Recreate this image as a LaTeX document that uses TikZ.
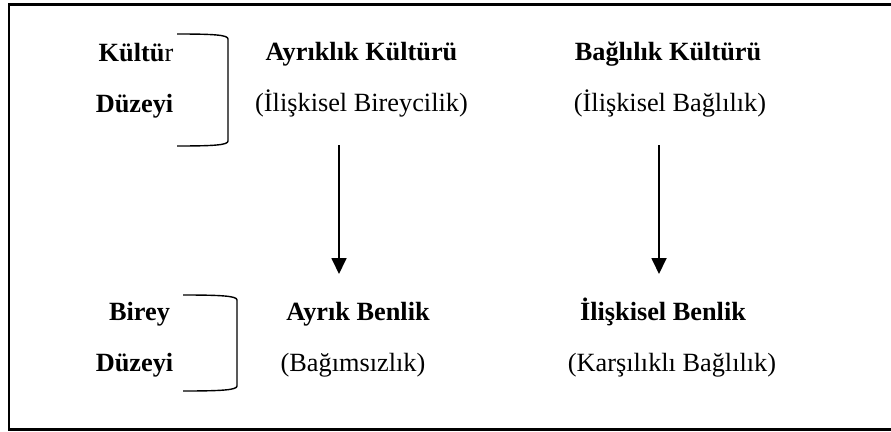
\documentclass[tikz,border=0pt]{standalone}
\usepackage{fontspec}
\setmainfont{Liberation Serif}
\usetikzlibrary{arrows.meta}
\tikzset{
  lbl/.style={inner sep=0pt, anchor=base, font=\fontsize{26.3}{30}\selectfont},
  blbl/.style={lbl, font=\fontsize{26.3}{30}\selectfont\bfseries},
  brk/.style={line width=1.4pt},
  arr/.style={line width=1.8pt, -{Triangle[width=15pt,length=16pt]}},
  frame/.style={line width=2.6pt}
}
\begin{document}
\begin{tikzpicture}[x=1pt,y=-1pt]
\useasboundingbox (0,0) rectangle (891,431);
% frame (right side out of view)
\draw[frame] (900,4.5) -- (9,4.5) -- (9,429.5) -- (900,429.5);
% left labels
\node[lbl] (kultur) at (136,61) {\textbf{Kültü}r};
\node[blbl] (duzeyi1) at (134.5,112) {Düzeyi};
\node[blbl] (birey) at (139.5,320) {Birey};
\node[blbl] (duzeyi2) at (134.5,371) {Düzeyi};
% brackets
\draw[brk] (177,34) .. controls (215,34) and (228,35) .. (228,39) -- (228,141) .. controls (228,145) and (215,146) .. (177,146);
\draw[brk] (183,295) .. controls (222,295) and (237,296) .. (237,300) -- (237,386) .. controls (237,390) and (222,391) .. (183,391);
% top row
\node[blbl] (ayrk) at (361.5,60) {Ayrıklık Kültürü};
\node[lbl] (ilbir) at (361.5,111) {(İlişkisel Bireycilik)};
\node[blbl] (bagk) at (668,60) {Bağlılık Kültürü};
\node[lbl] (ilbag) at (670,111) {(İlişkisel Bağlılık)};
% bottom row
\node[blbl] (ayrb) at (358,320) {Ayrık Benlik};
\node[lbl] (bagim) at (353,371) {(Bağımsızlık)};
\node[blbl] (ilben) at (663,320) {İlişkisel Benlik};
\node[lbl] (karsi) at (672,371) {(Karşılıklı Bağlılık)};
% arrows
\coordinate (a1s) at (339,145);
\coordinate (a1e) at (339,274);
\coordinate (a2s) at (659,145);
\coordinate (a2e) at (659,274);
\draw[arr] (a1s) -- (a1e);
\draw[arr] (a2s) -- (a2e);
\end{tikzpicture}
\end{document}
